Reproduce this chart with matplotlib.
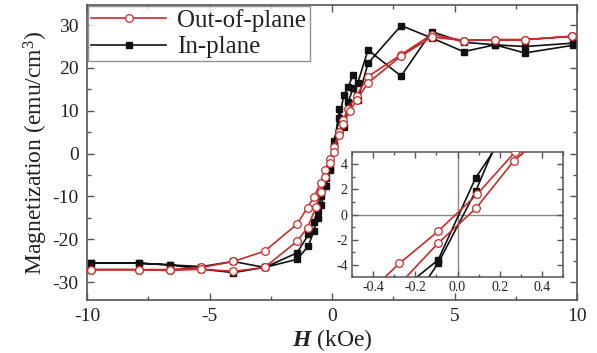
import matplotlib
matplotlib.use("Agg")
import matplotlib.pyplot as plt
from matplotlib.ticker import MultipleLocator

plt.rcParams['font.family'] = ['Liberation Serif', 'DejaVu Serif']
plt.rcParams['mathtext.fontset'] = 'custom'
plt.rcParams['mathtext.rm'] = 'Liberation Serif'
plt.rcParams['mathtext.it'] = 'Liberation Serif:italic'
plt.rcParams['mathtext.bf'] = 'Liberation Serif:bold'
plt.rcParams['mathtext.bfit'] = 'Liberation Serif:italic:bold'

# ---- data (H in kOe, M in emu/cm^3) ----
out_desc_h = [9.8, 7.87, 6.65, 5.37, 4.07, 2.82, 1.47, 1.0, 0.65, 0.46, 0.273, 0.093,
              -0.092, -0.275, -0.46, -0.73, -1.0, -1.43, -2.75, -4.03, -5.33, -6.61, -7.89, -9.85]
out_desc_m = [27.4, 26.6, 26.6, 26.4, 27.8, 23.1, 18.0, 13.5, 10.5, 7.8, 4.96, 1.6,
              -1.33, -3.87, -6.8, -10.1, -12.6, -16.5, -22.8, -25.2, -26.6, -27.1, -27.1, -27.1]
out_asc_h = [-9.85, -7.89, -6.61, -5.33, -4.03, -2.75, -1.43, -1.0, -0.65, -0.46, -0.268, -0.092,
             0.087, 0.268, 0.46, 0.73, 1.0, 1.47, 2.82, 4.07, 5.37, 6.65, 7.87, 9.8]
out_asc_m = [-27.1, -27.1, -27.3, -27.0, -27.5, -26.6, -20.5, -17.3, -12.5, -9.0, -5.4, -2.27,
             0.48, 4.27, 7.0, 10.0, 12.5, 16.5, 22.8, 27.2, 26.4, 26.6, 26.6, 27.4]

in_desc_h = [9.85, 7.87, 6.65, 5.37, 4.07, 2.82, 1.47, 1.05, 0.86, 0.66, 0.48, 0.3, 0.087,
             -0.092, -0.24, -0.44, -0.59, -0.75, -0.96, -1.43, -2.75, -4.03, -5.33, -6.61, -7.89, -9.85]
in_desc_m = [25.8, 25.0, 25.4, 26.0, 28.5, 18.1, 24.2, 16.5, 18.4, 15.5, 13.6, 8.2, 2.93,
             -3.6, -5.6, -9.9, -13.4, -16.0, -18.9, -23.2, -26.6, -25.2, -26.4, -26.0, -25.6, -25.6]
in_asc_h = [-9.85, -7.89, -6.61, -5.33, -4.03, -2.75, -1.43, -0.96, -0.75, -0.59, -0.44, -0.24, -0.092,
            0.087, 0.3, 0.48, 0.66, 0.86, 1.05, 1.47, 2.82, 4.07, 5.37, 6.65, 7.87, 9.85]
in_asc_m = [-25.6, -25.6, -26.0, -27.0, -27.8, -26.6, -24.7, -21.6, -18.1, -15.0, -12.0, -7.5, -3.87,
            1.87, 10.3, 6.2, 12.1, 15.2, 12.5, 21.1, 29.9, 27.0, 23.8, 25.4, 23.5, 25.3]

series_labels = ["Out-of-plane", "In-plane"]
main_xticks = [-10, -5, 0, 5, 10]
main_yticks = [-30, -20, -10, 0, 10, 20, 30]
inset_xticks = [-0.4, -0.2, 0.0, 0.2, 0.4]
inset_yticks = [-4, -2, 0, 2, 4]

RED = '#cc2b2b'
BLACK = '#111111'
SPINE = '#555555'

out_h = out_desc_h + out_asc_h
out_m = out_desc_m + out_asc_m
in_h = in_desc_h + in_asc_h
in_m = in_desc_m + in_asc_m

fig = plt.figure(figsize=(5.97, 3.53), dpi=100)
ax = fig.add_axes([87/597, 1-300/353, 490/597, 295/353])


def draw(a, ms_c, ms_s, lw):
    a.plot(out_h, out_m, '-', color=RED, lw=lw, marker='o', ms=ms_c,
           mfc='white', mec=RED, mew=0.9, label=series_labels[0], zorder=3)
    a.plot(in_h, in_m, '-', color=BLACK, lw=lw, marker='s', ms=ms_s,
           mfc=BLACK, mec=BLACK, label=series_labels[1], zorder=2)


draw(ax, 5.5, 5.0, 1.2)
ax.set_xlim(-10, 10)
ax.set_ylim(-34.2, 34.7)
ax.set_xticks(main_xticks)
ax.set_xticklabels([str(t) for t in main_xticks])
ax.set_yticks(main_yticks)
ax.set_yticklabels([str(t) for t in main_yticks])
ax.xaxis.set_minor_locator(MultipleLocator(2.5))
ax.yaxis.set_minor_locator(MultipleLocator(5))
ax.tick_params(which='both', direction='in', top=True, right=True, colors=SPINE,
               labelcolor='#222222', labelsize=14, width=1)
ax.tick_params(which='major', length=5, pad=6)
ax.tick_params(which='minor', length=3)
for s in ax.spines.values():
    s.set_color(SPINE)
    s.set_linewidth(1.2)
ax.set_xlabel(r'$\mathbfit{H}$ (kOe)', fontsize=17, color='#222222', labelpad=1)
ax.set_ylabel(r'Magnetization (emu/cm$^3$)', fontsize=17, color='#222222', labelpad=2)

leg = ax.legend(loc='upper left', bbox_to_anchor=(0, 1), borderaxespad=0.05,
                fontsize=18, frameon=True, fancybox=False, handlelength=3.0,
                handletextpad=0.45, borderpad=0.12, labelspacing=0.15)
leg.get_frame().set_edgecolor('#777777')
leg.get_frame().set_linewidth(1.0)
for t in leg.get_texts():
    t.set_color('#222222')

# ---- inset ----
axi = fig.add_axes([352/597, 1-277/353, 211/597, 125/353])
axi.axhline(0, color='#888888', lw=1.0, zorder=1)
axi.axvline(0, color='#888888', lw=1.0, zorder=1)
draw(axi, 5.5, 5.0, 1.2)
axi.set_xlim(-0.5, 0.5)
axi.set_ylim(-4.95, 4.95)
axi.set_xticks(inset_xticks)
axi.set_xticklabels([f'{t:.1f}' for t in inset_xticks])
axi.set_yticks(inset_yticks)
axi.set_yticklabels([str(t) for t in inset_yticks])
axi.xaxis.set_minor_locator(MultipleLocator(0.1))
axi.yaxis.set_minor_locator(MultipleLocator(1))
axi.tick_params(which='both', direction='in', top=True, right=True, colors=SPINE,
                labelcolor='#222222', labelsize=10, width=1)
axi.tick_params(which='major', length=4, pad=3)
axi.tick_params(which='minor', length=2)
for s in axi.spines.values():
    s.set_color(SPINE)
    s.set_linewidth(1.1)

fig.savefig('out.png', dpi=100)
